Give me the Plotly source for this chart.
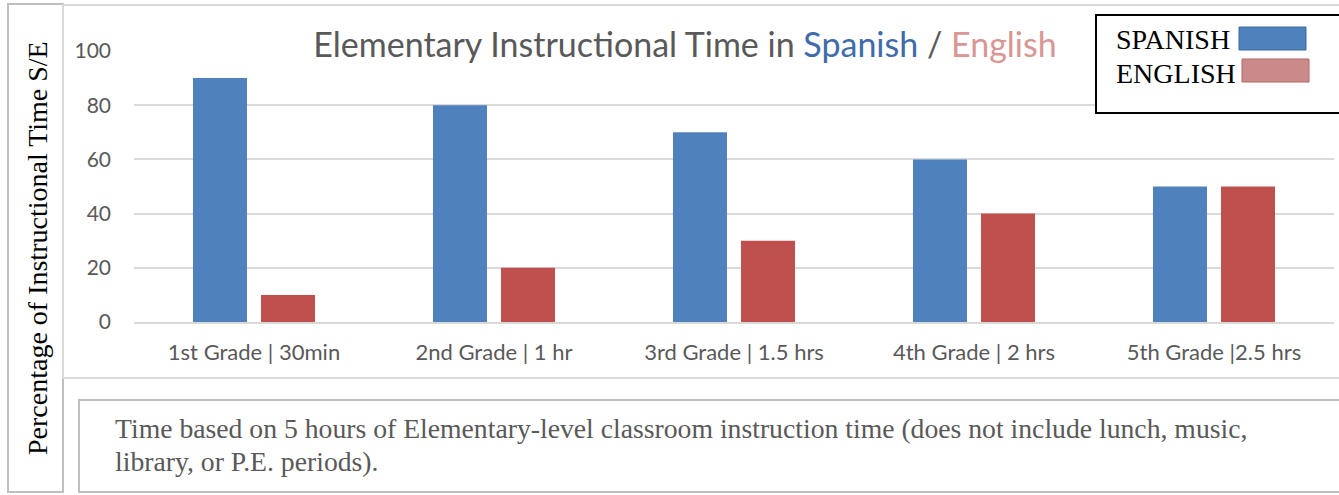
import plotly.graph_objects as go

categories = ["1st Grade | 30min", "2nd Grade | 1 hr", "3rd Grade | 1.5 hrs", "4th Grade | 2 hrs", "5th Grade |2.5 hrs"]
spanish = [90, 80, 70, 60, 50]
english = [10, 20, 30, 40, 50]
series_names = ["SPANISH", "ENGLISH"]
y_ticks = [0, 20, 40, 60, 80, 100]
note_lines = [
    "Time based on 5 hours of Elementary-level classroom instruction time (does not include lunch, music,",
    "library, or P.E. periods).",
]

W, H = 1339, 495
BLUE = "#4F81BD"
RED = "#C0504D"

def px(x):
    return x / W

def py(y):
    return 1 - y / H

fig = go.Figure()
fig.add_trace(go.Bar(x=categories, y=spanish, name=series_names[0], marker=dict(color=BLUE, line=dict(width=0))))
fig.add_trace(go.Bar(x=categories, y=english, name=series_names[1], marker=dict(color=RED, line=dict(width=0))))

serif = "Liberation Serif, Times New Roman, serif"
sans = "Lato, Open Sans, sans-serif"

fig.update_layout(
    width=W, height=H,
    margin=dict(l=0, r=0, t=0, b=0, autoexpand=False),
    paper_bgcolor="white", plot_bgcolor="white",
    showlegend=False,
    barmode="group",
    bargap=0.433, bargroupgap=0.206,
    title=dict(
        text='Elementary Instructional Time in <span style="color:#3E6BA9">Spanish</span> / <span style="color:#D99694">English</span>',
        x=px(685), xanchor="center", y=py(45), yanchor="middle",
        xref="container", yref="container",
        font=dict(family=sans, size=34, color="#595959"),
        automargin=False,
    ),
    xaxis=dict(
        domain=[px(134), px(1334)],
        showgrid=False, showline=True, linecolor="#D9D9D9", linewidth=2,
        ticks="", tickfont=dict(family=sans, size=22, color="#595959"),
        ticklabelstandoff=10, automargin=False,
    ),
    yaxis=dict(
        domain=[py(322), py(51)],
        range=[0, 100], tickvals=y_ticks,
        showgrid=True, gridcolor="#D9D9D9", gridwidth=2,
        zeroline=False, showline=False, ticks="",
        tickfont=dict(family=sans, size=21, color="#595959"),
        ticklabelstandoff=22, automargin=False,
    ),
)

gray = "#BFBFBF"
shapes = [
    dict(type="rect", xref="paper", yref="paper", x0=px(8), x1=px(63), y0=py(492), y1=py(4), line=dict(color=gray, width=2)),
    dict(type="rect", xref="paper", yref="paper", x0=px(63), x1=px(1345), y0=py(378), y1=py(5), line=dict(color="#D9D9D9", width=2)),
    dict(type="rect", xref="paper", yref="paper", x0=px(79), x1=px(1345), y0=py(492), y1=py(400), line=dict(color=gray, width=2)),
    dict(type="rect", xref="paper", yref="paper", x0=px(1096), x1=px(1345), y0=py(113), y1=py(15), line=dict(color="black", width=2), fillcolor="white"),
    dict(type="rect", xref="paper", yref="paper", x0=px(1239), x1=px(1306), y0=py(50), y1=py(27), line=dict(color="#3B6A9E", width=1), fillcolor=BLUE),
    dict(type="rect", xref="paper", yref="paper", x0=px(1242), x1=px(1309), y0=py(82), y1=py(59), line=dict(color="#B86462", width=1), fillcolor="#C98B8A"),
]
fig.update_layout(shapes=shapes)

annotations = [
    dict(text="Percentage of Instructional Time S/E", xref="paper", yref="paper", x=px(37), y=py(248),
         textangle=-90, showarrow=False, xanchor="center", yanchor="middle",
         font=dict(family=serif, size=28, color="black")),
    dict(text=series_names[0], xref="paper", yref="paper", x=px(1114), y=py(40), showarrow=False,
         xanchor="left", yanchor="middle", font=dict(family=serif, size=28, color="black")),
    dict(text=series_names[1], xref="paper", yref="paper", x=px(1114), y=py(73), showarrow=False,
         xanchor="left", yanchor="middle", font=dict(family=serif, size=28, color="black")),
]
for i, line in enumerate(note_lines):
    annotations.append(dict(text=line, xref="paper", yref="paper", x=px(113), y=py(428 + 33 * i), showarrow=False,
                            align="left", xanchor="left", yanchor="middle",
                            font=dict(family=serif, size=27.7, color="#595959")))
fig.update_layout(annotations=annotations)

fig.write_html("out.html", config={"displayModeBar": False},
               post_script="document.body.style.margin='0';document.body.style.overflow='hidden';")
